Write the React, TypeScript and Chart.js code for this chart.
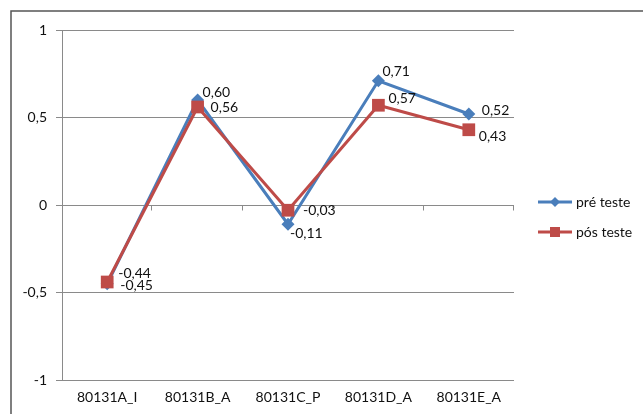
import React, { useEffect, useRef } from "react";
import { Chart, registerables } from "chart.js";

Chart.register(...registerables);

// Categories and scores
const categories = ["80131A_I", "80131B_A", "80131C_P", "80131D_A", "80131E_A"];
const preTeste = [-0.45, 0.6, -0.11, 0.71, 0.52];
const posTeste = [-0.44, 0.56, -0.03, 0.57, 0.43];
const seriesNames = ["pré teste", "pós teste"];
const yTicks = [-1, -0.5, 0, 0.5, 1];

// Per-point label offsets (dx, dy) from the marker centre
const preLabelOffsets = [[13, 2], [5, -8], [2, 9], [4, -9], [13, -4]];
const posLabelOffsets = [[11, -9], [13, 0], [15, 0], [10, -7], [10, 7]];

const BLUE = "#4A7EBB";
const RED = "#BE4B48";
const GRID = "#8a8a8a";
const FONT = "Lato, 'Open Sans', sans-serif";

// Axis ticks: shortest form with a decimal comma
const fmtTick = (v: number) => String(v).replace(".", ",");
// Point labels: always two decimals with a decimal comma
const fmtValue = (v: number) => v.toFixed(2).replace(".", ",");

const framePlugin = {
  id: "frame",
  beforeDraw(chart: any) {
    const ctx = chart.ctx;
    ctx.save();
    ctx.fillStyle = "#ffffff";
    ctx.fillRect(0, 0, chart.width, chart.height);
    ctx.strokeStyle = "#555555";
    ctx.lineWidth = 1.5;
    ctx.beginPath();
    ctx.moveTo(11, chart.height + 5);
    ctx.lineTo(11, 11);
    ctx.lineTo(chart.width + 5, 11);
    ctx.stroke();
    ctx.restore();
  },
};

// Category tick marks on the zero line
const zeroTicksPlugin = {
  id: "zeroTicks",
  beforeDatasetsDraw(chart: any) {
    const { ctx, chartArea, scales } = chart;
    const y0 = Math.round(scales.y.getPixelForValue(0)) + 0.5;
    const step = (chartArea.right - chartArea.left) / categories.length;
    ctx.save();
    ctx.strokeStyle = GRID;
    ctx.lineWidth = 1;
    ctx.beginPath();
    for (let k = 1; k <= categories.length; k++) {
      const x = Math.round(chartArea.left + k * step) - 0.5;
      ctx.moveTo(x, y0);
      ctx.lineTo(x, y0 + 5);
    }
    ctx.stroke();
    ctx.restore();
  },
};

const valueLabelsPlugin = {
  id: "valueLabels",
  afterDatasetsDraw(chart: any) {
    const ctx = chart.ctx;
    const offsets = [preLabelOffsets, posLabelOffsets];
    ctx.save();
    ctx.font = `14px ${FONT}`;
    ctx.fillStyle = "#111111";
    ctx.textAlign = "left";
    ctx.textBaseline = "middle";
    chart.data.datasets.forEach((ds: any, di: number) => {
      const meta = chart.getDatasetMeta(di);
      meta.data.forEach((pt: any, i: number) => {
        const [dx, dy] = offsets[di][i];
        ctx.fillText(fmtValue(ds.data[i]), pt.x + dx, pt.y + dy);
      });
    });
    ctx.restore();
  },
};

const legendPlugin = {
  id: "sideLegend",
  afterDraw(chart: any) {
    const ctx = chart.ctx;
    const rows = [
      { y: 202, color: BLUE, shape: "diamond" },
      { y: 232, color: RED, shape: "square" },
    ];
    ctx.save();
    rows.forEach((r, i) => {
      ctx.strokeStyle = r.color;
      ctx.fillStyle = r.color;
      ctx.lineWidth = 3;
      ctx.beginPath();
      ctx.moveTo(538, r.y);
      ctx.lineTo(572, r.y);
      ctx.stroke();
      const cx = 555;
      ctx.beginPath();
      if (r.shape === "diamond") {
        ctx.moveTo(cx, r.y - 5);
        ctx.lineTo(cx + 5, r.y);
        ctx.lineTo(cx, r.y + 5);
        ctx.lineTo(cx - 5, r.y);
        ctx.closePath();
      } else {
        ctx.rect(cx - 5, r.y - 5, 10, 10);
      }
      ctx.fill();
      ctx.font = `14px ${FONT}`;
      ctx.fillStyle = "#111111";
      ctx.textAlign = "left";
      ctx.textBaseline = "middle";
      ctx.fillText(seriesNames[i], 576, r.y);
    });
    ctx.restore();
  },
};

export default function App() {
  const canvasRef = useRef<HTMLCanvasElement | null>(null);

  useEffect(() => {
    const canvas = canvasRef.current;
    if (!canvas) return;
    const chart = new Chart(canvas, {
      type: "line",
      data: {
        labels: categories,
        datasets: [
          {
            label: seriesNames[0],
            data: preTeste,
            borderColor: BLUE,
            backgroundColor: BLUE,
            borderWidth: 3,
            pointStyle: "rectRot",
            pointRadius: 6.5,
            pointBorderWidth: 0,
            tension: 0,
            order: 1,
          },
          {
            label: seriesNames[1],
            data: posTeste,
            borderColor: RED,
            backgroundColor: RED,
            borderWidth: 3,
            pointStyle: "rect",
            pointRadius: 9,
            pointBorderWidth: 0,
            tension: 0,
            order: 0,
          },
        ],
      },
      options: {
        responsive: false,
        animation: false,
        devicePixelRatio: 1,
        layout: { padding: { left: 0, top: 30, right: 129, bottom: 0 } },
        plugins: {
          legend: { display: false },
          tooltip: { enabled: false },
        },
        scales: {
          x: {
            type: "category",
            offset: true,
            grid: { display: false, drawTicks: false },
            border: { display: false },
            ticks: {
              color: "#111111",
              font: { family: FONT, size: 14 },
              padding: 9,
              maxRotation: 0,
              autoSkip: false,
            },
            afterFit: (scale: any) => {
              scale.height = 34;
            },
          },
          y: {
            min: -1,
            max: 1,
            afterBuildTicks: (scale: any) => {
              scale.ticks = yTicks.map((v) => ({ value: v }));
            },
            grid: {
              color: GRID,
              lineWidth: 1,
              drawTicks: true,
              tickLength: 6,
              tickColor: GRID,
            },
            border: { display: true, color: GRID, width: 1 },
            ticks: {
              color: "#111111",
              font: { family: FONT, size: 14 },
              padding: 9,
              callback: (v: any) => fmtTick(Number(v)),
            },
            afterFit: (scale: any) => {
              scale.width = 62;
            },
          },
        },
      },
      plugins: [framePlugin, zeroTicksPlugin, valueLabelsPlugin, legendPlugin],
    });
    return () => chart.destroy();
  }, []);

  return (
    <div style={{ position: "fixed", left: 0, top: 0, width: 643, height: 414, background: "#fff" }}>
      <canvas ref={canvasRef} width={643} height={414} style={{ width: 643, height: 414, display: "block" }} />
    </div>
  );
}
